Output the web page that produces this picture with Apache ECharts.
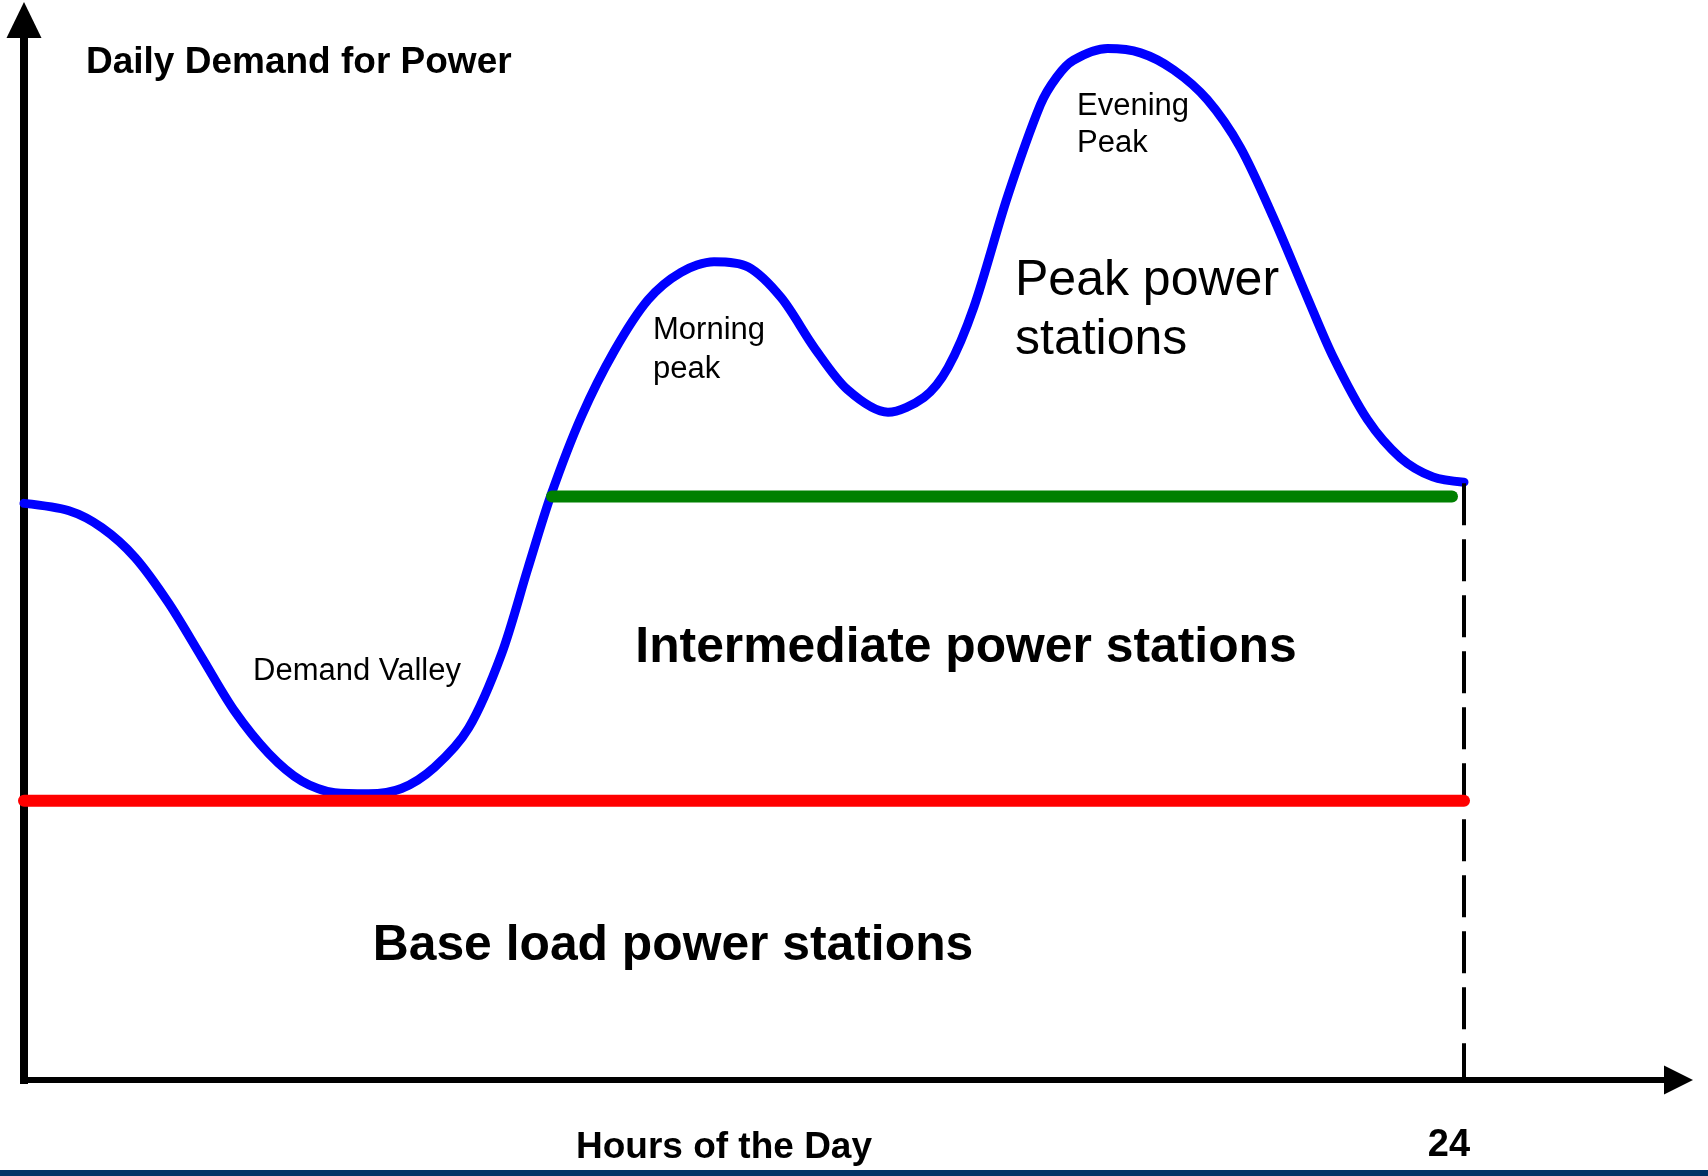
<!DOCTYPE html>
<html>
<head>
<meta charset="utf-8">
<script src="https://cdn.jsdelivr.net/npm/echarts@6/dist/echarts.min.js"></script>
<style>
  html, body { margin: 0; padding: 0; background: #ffffff; }
  #chart { width: 1708px; height: 1176px; }
</style>
</head>
<body>
<div id="chart"></div>
<script>
// ---- data (hours of the day, demand in arbitrary units 0..100) ----
const hours = [0, 0.75, 1.30, 1.85, 2.41, 2.96, 3.51, 4.08, 4.63, 5.18, 5.74, 6.29, 6.84, 7.41, 7.96, 8.40, 8.79, 9.29, 9.84, 10.40, 10.95, 11.50, 12.07, 12.62, 13.17, 13.73, 14.40, 15.00, 15.40, 15.83, 16.39, 16.94, 17.21, 17.49, 18.06, 18.61, 19.16, 19.72, 20.27, 20.82, 21.39, 21.82, 22.39, 22.94, 23.48, 24.00];
const demand = [54.4, 53.7, 52.1, 49.3, 45.0, 39.9, 34.8, 30.8, 28.2, 27.1, 27.0, 27.5, 29.5, 33.2, 40.2, 48.3, 55.3, 62.6, 68.8, 73.6, 76.2, 77.2, 76.7, 73.8, 69.1, 65.1, 63.0, 64.4, 67.2, 72.9, 83.3, 92.0, 94.6, 96.2, 97.3, 96.9, 95.3, 92.5, 88.0, 81.4, 73.8, 68.2, 62.3, 58.7, 56.9, 56.4];
const baseLoadHours = [0, 24];
const baseLoadLevel = 26.35;
const intermediateHours = [8.8, 23.8];
const intermediateLevel = 55.05;
const dayEndHour = 24;
const dayEndDemand = 56.3;
const xTickLabels = ['24'];
const xMax = 27.575;
const yMax = 100;

const FONT = "'Liberation Sans', Arial, Helvetica, sans-serif";

const demandData = hours.map((h, i) => [h, demand[i]]);
const baseData = baseLoadHours.map(h => [h, baseLoadLevel]);
const interData = intermediateHours.map(h => [h, intermediateLevel]);
const dayEndData = [[dayEndHour, dayEndDemand], [dayEndHour, 0]];

function txt(text, x, y, size, weight, align, lineHeight) {
  return {
    type: 'text', x: x, y: y, z: 10,
    style: {
      text: text, fill: '#000', fontSize: size, fontWeight: weight, fontFamily: FONT,
      align: align, verticalAlign: 'middle', lineHeight: lineHeight || size
    }
  };
}

const chart = echarts.init(document.getElementById('chart'), null, { renderer: 'canvas' });
chart.setOption({
  animation: false,
  backgroundColor: '#ffffff',
  grid: { left: 24, right: 29.5, top: 20, bottom: 96, containLabel: false, outerBoundsMode: 'none' },
  xAxis: {
    type: 'value', min: 0, max: xMax, interval: 24,
    splitLine: { show: false },
    axisTick: { show: false },
    axisLine: { show: true, onZero: false, symbol: ['none', 'triangle'], symbolSize: [29, 29],
      lineStyle: { color: '#000', width: 6 } },
    axisLabel: {
      show: true, margin: 47, color: '#000', fontSize: 38, fontWeight: 'bold', fontFamily: FONT,
      padding: [0, 30, 0, 0],
      formatter: v => (Math.abs(v - 24) < 1e-6 ? xTickLabels[0] : '')
    }
  },
  yAxis: {
    type: 'value', min: 0, max: yMax,
    splitLine: { show: false },
    axisTick: { show: false },
    axisLabel: { show: false },
    axisLine: { show: true, onZero: false, symbol: ['none', 'triangle'], symbolSize: [35, 36],
      lineStyle: { color: '#000', width: 8, cap: 'square' } }
  },
  series: [
    {
      name: 'Daily demand', type: 'line', data: demandData, smooth: 0.3,
      showSymbol: false, symbol: 'none', z: 2,
      lineStyle: { color: '#0000ff', width: 9, cap: 'round', join: 'round' }
    },
    {
      name: 'End of day', type: 'line', data: dayEndData, showSymbol: false, symbol: 'none', z: 3,
      lineStyle: { color: '#000', width: 4, type: [42, 14], cap: 'butt' }
    },
    {
      name: 'Base load', type: 'line', data: baseData, showSymbol: false, symbol: 'none', z: 4,
      lineStyle: { color: '#ff0000', width: 12, cap: 'round' }
    },
    {
      name: 'Intermediate', type: 'line', data: interData, showSymbol: false, symbol: 'none', z: 4,
      lineStyle: { color: '#008000', width: 12, cap: 'round' }
    }
  ],
  graphic: [
    txt('Daily Demand for Power', 86, 63, 37, 'bold', 'left'),
    txt('Hours of the Day', 724, 1148, 37, 'bold', 'center'),
    txt('Base load power stations', 673, 946, 49.8, 'bold', 'center'),
    txt('Intermediate power stations', 966, 648, 49.8, 'bold', 'center'),
    txt('Peak power\nstations', 1015, 311, 50, 'normal', 'left', 59),
    txt('Demand Valley', 253, 671, 31, 'normal', 'left'),
    txt('Morning\npeak', 653, 350, 31, 'normal', 'left', 39),
    txt('Evening\nPeak', 1077, 125, 31, 'normal', 'left', 37),
    { type: 'rect', shape: { x: 0, y: 1170, width: 1708, height: 6 }, style: { fill: '#003366' }, z: 10 }
  ]
});
</script>
</body>
</html>
